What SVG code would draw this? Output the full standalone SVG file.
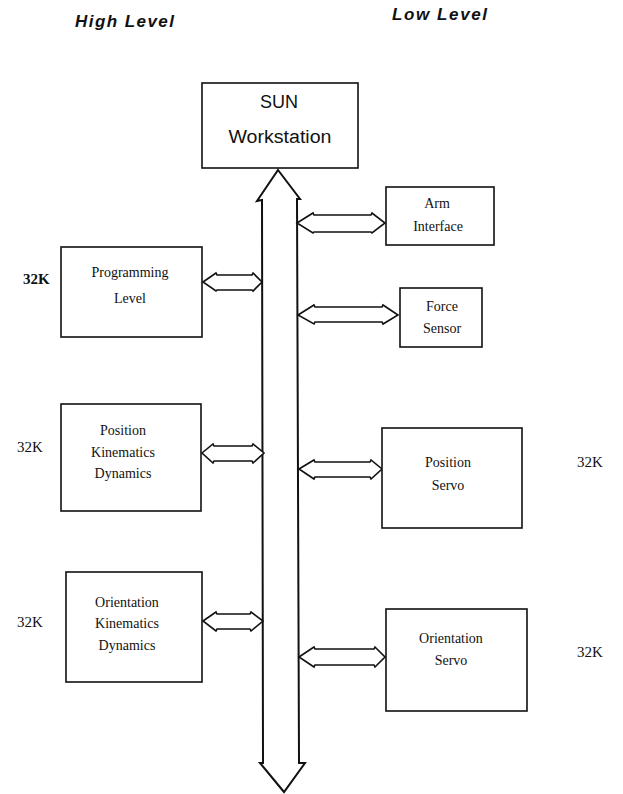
<svg xmlns="http://www.w3.org/2000/svg" width="623" height="794" viewBox="0 0 623 794">
<style>
.box{fill:#fff;stroke:#111;stroke-width:1.6}
.conn{fill:#fff;stroke:#111;stroke-width:1.6;stroke-linejoin:miter}
.bus{fill:#fff;stroke:#111;stroke-width:2}
.t{font-family:"Liberation Serif","Times New Roman",serif;font-size:14px;fill:#111;text-anchor:middle}
.k{font-family:"Liberation Serif","Times New Roman",serif;font-size:15px;fill:#111}
.kb{font-weight:bold}
.h{font-family:"Liberation Sans",Arial,sans-serif;font-size:17px;font-weight:bold;font-style:italic;fill:#111}
.s{font-family:"Liberation Sans",Arial,sans-serif;font-size:18px;fill:#111;text-anchor:middle}
</style>
<rect width="623" height="794" fill="#fff"/>
<text class="h" x="75" y="27" textLength="99" lengthAdjust="spacing">High Level</text>
<text class="h" x="392" y="20" textLength="95" lengthAdjust="spacing">Low Level</text>

<g id="connectors">
<polygon id="bus" class="bus" points="278,170 300,199 297,199 299,763 305,763 284,792 260,763 263,763 262,200 257,201"/>
<polygon class="conn" points="297,223 313,213 314,215 371,215 372,213 385,223 372,233 371,232 314,232 313,233"/>
<polygon class="conn" points="298,315 314,305 315,307 382,307 383,305 398,315 383,324 382,322 315,322 314,324"/>
<polygon class="conn" points="203,282 216,273 217,275 252,275 253,273 262,282 253,291 252,290 217,290 216,291"/>
<polygon class="conn" points="202,453 213,444 214,446 252,446 253,444 264,453 253,463 252,461 214,461 213,463"/>
<polygon class="conn" points="203,621 216,612 217,614 250,614 251,612 263,621 251,631 250,629 217,629 216,631"/>
<polygon class="conn" points="299,469 314,460 315,462 370,462 371,460 382,469 371,479 370,477 315,477 314,479"/>
<polygon class="conn" points="299,657 314,647 315,649 374,649 375,647 385,657 375,667 374,665 315,665 314,667"/>
</g>

<g id="sun">
<rect class="box" x="202" y="83" width="156" height="85"/>
<text class="s" x="279" y="108">SUN</text>
<text class="s" x="280" y="143" textLength="103" lengthAdjust="spacingAndGlyphs">Workstation</text>
</g>

<g id="arm">
<rect class="box" x="386" y="187" width="108" height="58"/>
<text class="t" x="437" y="208">Arm</text>
<text class="t" x="438" y="231">Interface</text>
</g>

<g id="force">
<rect class="box" x="400" y="288" width="82" height="59"/>
<text class="t" x="442" y="311">Force</text>
<text class="t" x="442" y="333">Sensor</text>
</g>

<g id="programming">
<text class="k kb" x="23" y="284">32K</text>
<rect class="box" x="61" y="247" width="141" height="90"/>
<text class="t" x="130" y="277">Programming</text>
<text class="t" x="130" y="303">Level</text>
</g>

<g id="poskin">
<text class="k" x="17" y="452">32K</text>
<rect class="box" x="61" y="404" width="140" height="107"/>
<text class="t" x="123" y="435">Position</text>
<text class="t" x="123" y="457">Kinematics</text>
<text class="t" x="123" y="478">Dynamics</text>
</g>

<g id="orikin">
<text class="k" x="17" y="627">32K</text>
<rect class="box" x="66" y="572" width="136" height="110"/>
<text class="t" x="127" y="607">Orientation</text>
<text class="t" x="127" y="628">Kinematics</text>
<text class="t" x="127" y="650">Dynamics</text>
</g>

<g id="posservo">
<rect class="box" x="382" y="428" width="140" height="100"/>
<text class="t" x="448" y="467">Position</text>
<text class="t" x="448" y="490">Servo</text>
<text class="k" x="577" y="467">32K</text>
</g>

<g id="oriservo">
<rect class="box" x="386" y="609" width="141" height="102"/>
<text class="t" x="451" y="643">Orientation</text>
<text class="t" x="451" y="665">Servo</text>
<text class="k" x="577" y="657">32K</text>
</g>
</svg>
